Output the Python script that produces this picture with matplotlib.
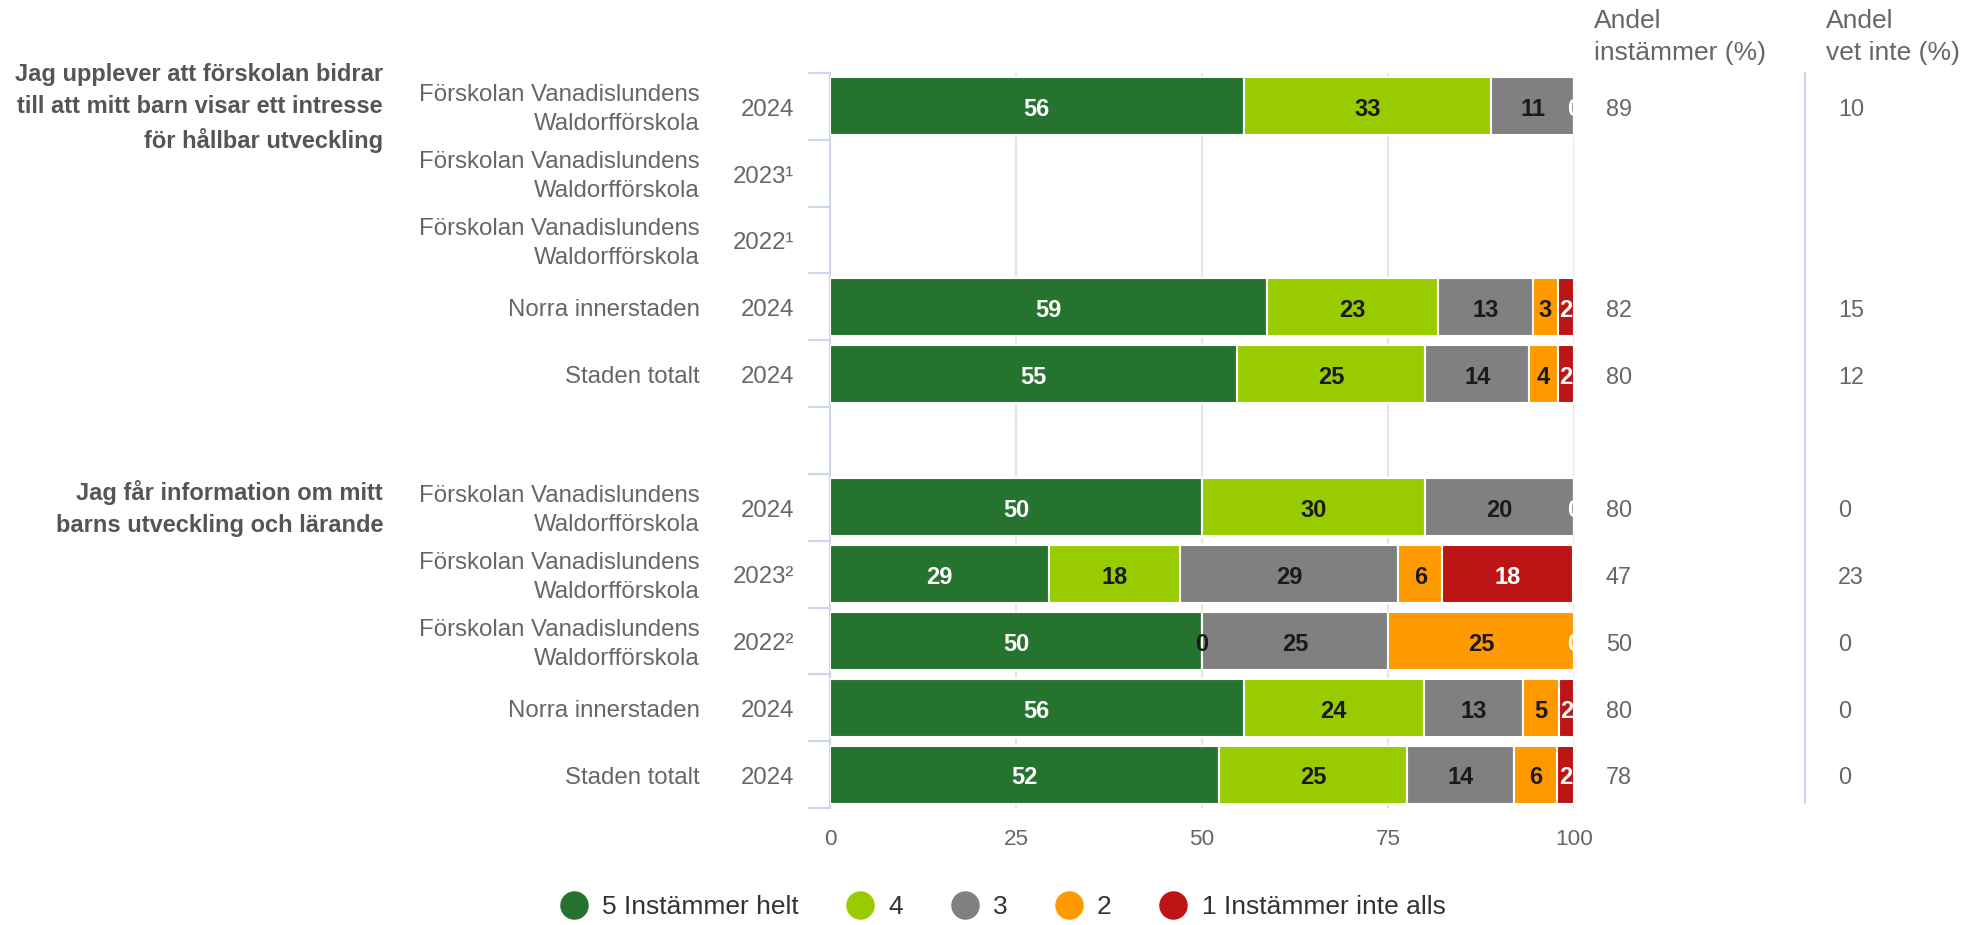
import numpy as np
import matplotlib
matplotlib.use('Agg')
import matplotlib.pyplot as plt
from matplotlib.lines import Line2D
from matplotlib.transforms import blended_transform_factory

plt.rcParams['font.family'] = ['Liberation Sans', 'DejaVu Sans']

# --- data ---
nan = np.nan
questions = [
    "Jag upplever att förskolan bidrar\ntill att mitt barn visar ett intresse\nför hållbar utveckling",
    "Jag får information om mitt\nbarns utveckling och lärande",
]
question_rows = [0, 6]

school = "Förskolan Vanadislundens\nWaldorfförskola"
row_names = [school, school, school, "Norra innerstaden", "Staden totalt", "",
             school, school, school, "Norra innerstaden", "Staden totalt"]
row_years = ["2024", "2023¹", "2022¹", "2024", "2024", "",
             "2024", "2023²", "2022²", "2024", "2024"]

s5 = [55.6, nan, nan, 58.7, 54.7, nan, 50.0, 29.4, 50.0, 55.6, 52.3]
s4 = [33.3, nan, nan, 23.0, 25.3, nan, 30.0, 17.6, 0.0, 24.2, 25.3]
s3 = [11.1, nan, nan, 12.8, 14.0, nan, 20.0, 29.4, 25.0, 13.4, 14.4]
s2 = [0.0, nan, nan, 3.3, 3.8, nan, 0.0, 5.9, 25.0, 4.8, 5.7]
s1 = [0.0, nan, nan, 2.2, 2.2, nan, 0.0, 17.6, 0.0, 2.0, 2.3]

andel_instammer = ["89", "", "", "82", "80", "", "80", "47", "50", "80", "78"]
andel_vet_inte = ["10", "", "", "15", "12", "", "0", "23", "0", "0", "0"]

series_names = ["5 Instämmer helt", "4", "3", "2", "1 Instämmer inte alls"]
series_colors = ["#267330", "#99cc00", "#808080", "#ff9900", "#bd1515"]
label_colors = ["white", "#1a1a1a", "#1a1a1a", "#1a1a1a", "white"]

W, H = 1968, 925
fig = plt.figure(figsize=(W / 100, H / 100), dpi=100)
ax = fig.add_axes([830 / W, 1 - 808 / H, 744 / W, 735 / H])

dy = 0.05  # text sits a little below the row centre, as in the original

y = np.arange(len(row_names))
all_series = [np.array(s, dtype=float) for s in [s5, s4, s3, s2, s1]]
left = np.zeros(len(y))
for k, vals in enumerate(all_series):
    ax.barh(y, vals, left=left, height=0.87, color=series_colors[k],
            edgecolor='white', linewidth=1.5, zorder=3)
    for i, v in enumerate(vals):
        if np.isnan(v):
            continue
        # skip a zero label if the next segment is also zero (same spot)
        if v == 0 and k + 1 < len(all_series) and all_series[k + 1][i] == 0:
            continue
        ax.text(left[i] + v / 2, i + dy, f"{v:.0f}", ha='center', va='center',
                color=label_colors[k], fontsize=17, fontweight='bold', zorder=5)
    left = left + np.nan_to_num(vals)

ax.set_xlim(0, 100)
ax.set_ylim(10.5, -0.5)
ax.set_xticks([0, 25, 50, 75, 100])
ax.xaxis.grid(True, color='#e6e6e6', linewidth=1.5, zorder=0)
ax.set_axisbelow(True)
ax.tick_params(axis='x', length=0, pad=15, labelsize=16.2, labelcolor='#666666')
ax.set_yticks(np.arange(-0.5, 11, 1))
ax.tick_params(axis='y', length=16, width=1.5, color='#ccd6eb', labelleft=False)
for s in ['top', 'right', 'bottom']:
    ax.spines[s].set_visible(False)
ax.spines['left'].set_color('#ccd6eb')
ax.spines['left'].set_linewidth(1.5)

trans = blended_transform_factory(fig.transFigure, ax.transData)
for i in y:
    ax.text(700 / W, i + dy, row_names[i], ha='right', va='center', transform=trans,
            fontsize=17.3, color='#666666', linespacing=1.42)
    ax.text(794 / W, i + dy, row_years[i], ha='right', va='center', transform=trans,
            fontsize=17.3, color='#666666')
    ax.text(1606 / W, i + dy, andel_instammer[i], ha='left', va='center',
            transform=trans, fontsize=16.8, color='#666666')
    ax.text(1838 / W, i + dy, andel_vet_inte[i], ha='left', va='center',
            transform=trans, fontsize=16.8, color='#666666')

for q, r in zip(questions, question_rows):
    ax.text(383 / W, r + 0.02, q, ha='right', va='center', transform=trans,
            fontsize=17, fontweight='bold', color='#555555', linespacing=1.5)

fig.text(1594 / W, 1 - 37 / H, "Andel\ninstämmer (%)", ha='left', va='center',
         fontsize=19, color='#666666', linespacing=1.45)
fig.text(1826 / W, 1 - 37 / H, "Andel\nvet inte (%)", ha='left', va='center',
         fontsize=19, color='#666666', linespacing=1.45)
fig.add_artist(Line2D([1805 / W, 1805 / W], [1 - 73 / H, 1 - 803 / H],
                      color='#ccd6eb', linewidth=1.5))

handles = [Line2D([], [], marker='o', linestyle='', markersize=19.5,
                  markerfacecolor=c, markeredgecolor=c) for c in series_colors]
fig.legend(handles, series_names, loc='center', ncol=5,
           bbox_to_anchor=(1003 / W, 1 - 907 / H), frameon=False,
           fontsize=19, labelcolor='#333333', handlelength=1.0,
           handletextpad=0.57, columnspacing=1.83)

fig.savefig('out.png', dpi=100)
